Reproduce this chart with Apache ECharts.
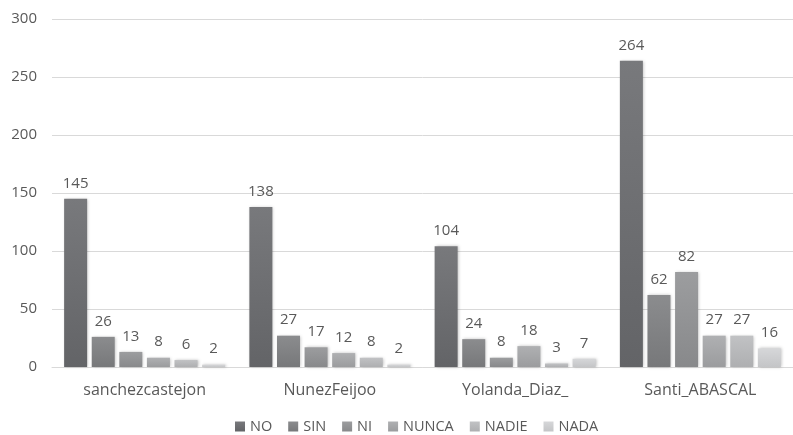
<!DOCTYPE html>
<html>
<head>
<meta charset="utf-8">
<script src="https://cdn.jsdelivr.net/npm/echarts@6/dist/echarts.min.js"></script>
<style>
  html, body { margin: 0; padding: 0; background: #fff; }
  #chart { width: 793px; height: 435px; }
</style>
</head>
<body>
<div id="chart"></div>
<script>
const categories = ['sanchezcastejon', 'NunezFeijoo', 'Yolanda_Diaz_', 'Santi_ABASCAL']
const seriesNames = ['NO', 'SIN', 'NI', 'NUNCA', 'NADIE', 'NADA']
const NO = [145, 138, 104, 264]
const SIN = [26, 27, 24, 62]
const NI = [13, 17, 8, 82]
const NUNCA = [8, 12, 18, 27]
const NADIE = [6, 8, 3, 27]
const NADA = [2, 2, 7, 16]
const yTicks = [0, 50, 100, 150, 200, 250, 300]

const values = [NO, SIN, NI, NUNCA, NADIE, NADA]
const colors = [
  ['#78797c', '#636467'],
  ['#8b8c8e', '#77787a'],
  ['#9c9d9f', '#88898b'],
  ['#afb0b2', '#9b9c9e'],
  ['#c1c2c4', '#aeafb1'],
  ['#d6d7d9', '#c4c5c7']
]

const chart = echarts.init(document.getElementById('chart'))

chart.setOption({
  animation: false,
  textStyle: { fontFamily: '"Open Sans", "Noto Sans", sans-serif' },
  grid: { left: 52, right: -6, top: 19, bottom: 68 },
  legend: {
    left: 230,
    top: 416,
    padding: [3, 5],
    itemWidth: 10,
    itemHeight: 10,
    itemGap: 16,
    icon: 'rect',
    textStyle: { color: '#595959', fontSize: 14.5 },
    data: seriesNames
  },
  xAxis: {
    type: 'category',
    data: categories,
    axisLine: { lineStyle: { color: '#d9d9d9' } },
    axisTick: { show: false },
    axisLabel: { color: '#595959', fontSize: 16, margin: 15 }
  },
  yAxis: {
    type: 'value',
    min: yTicks[0],
    max: yTicks[yTicks.length - 1],
    interval: 50,
    axisLine: { show: false },
    axisTick: { show: false },
    axisLabel: { color: '#595959', fontSize: 15, margin: 15 },
    splitLine: { lineStyle: { color: '#d9d9d9', width: 1 } }
  },
  series: seriesNames.map((name, i) => ({
    name: name,
    type: 'bar',
    data: values[i],
    barWidth: 23,
    barGap: '20%',
    itemStyle: {
      color: new echarts.graphic.LinearGradient(0, 0, 0, 1, [
        { offset: 0, color: colors[i][0] },
        { offset: 1, color: colors[i][1] }
      ]),
      shadowBlur: 3,
      shadowColor: 'rgba(0,0,0,0.25)',
      shadowOffsetX: 1
    },
    label: {
      show: true,
      position: 'top',
      distance: 8,
      color: '#595959',
      fontSize: 15
    }
  }))
})
</script>
</body>
</html>
